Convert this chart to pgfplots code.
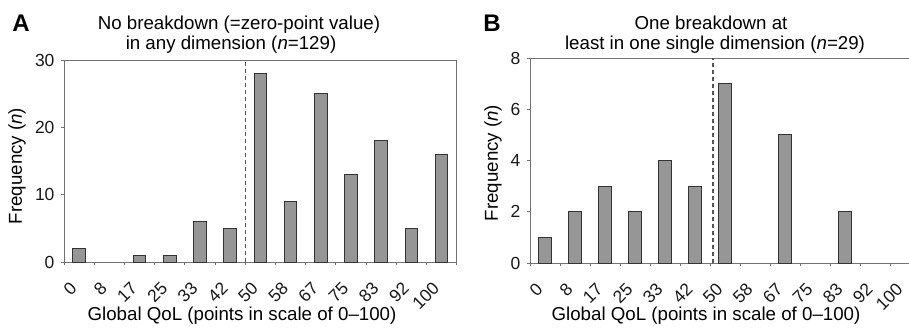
\documentclass[border=0pt]{standalone}
\usepackage{fontspec}
\setmainfont{Liberation Sans}
\usepackage{pgfplots}
\pgfplotsset{compat=1.18}
\definecolor{bargray}{RGB}{150,150,150}
\definecolor{axgray}{RGB}{115,115,115}
\definecolor{dashgray}{RGB}{85,85,85}
\pgfplotsset{
  mystyle/.style={
    scale only axis,
    anchor=south west,
    bar width=12.5pt,
    xmin=-0.5, xmax=12.5,
    xtick={0,...,12},
    xticklabels={0,8,17,25,33,42,50,58,67,75,83,92,100},
    minor xtick={-0.5,0.5,...,12.5},
    tick align=outside,
    xtick pos=bottom, ytick pos=left,
    every major x tick/.append style={draw=none},
    tick style={axgray, line width=0.8pt},
    major tick length=3pt, minor tick length=3pt,
    axis line style={axgray, line width=0.8pt},
    ticklabel style={font=\fontsize{17.5}{18}\selectfont, text=black!90},
    xticklabel style={xshift=-3pt, yshift=-18pt, rotate=45, anchor=east},
    yticklabel style={xshift=-3pt},
    /pgf/number format/assume math mode=true,
    ymin=0,
    clip=false,
  },
  mybar/.style={ybar, fill=bargray, draw=black!80, line width=0.8pt},
  mydash/.style={sharp plot, draw=dashgray, line width=1.2pt, dash pattern=on 4pt off 3pt},
}
\begin{document}
\begin{tikzpicture}
\path[use as bounding box, clip] (0,0) rectangle (909pt,332pt);
% Panel A (zero-frequency classes draw no bar)
\begin{axis}[mystyle, at={(64pt,70pt)}, width=392.6pt, height=202pt,
  ymax=30, ytick={0,10,20,30}]
\addplot[mybar] coordinates {(0,2) (2,1) (3,1) (4,6) (5,5) (6,28) (7,9) (8,25) (9,13) (10,18) (11,5) (12,16)};
\addplot[mydash] coordinates {(5.52,0) (5.52,30)};
\end{axis}
% Panel B
\begin{axis}[mystyle, at={(530pt,69pt)}, width=390pt, height=205pt,
  ymax=8, ytick={0,2,4,6,8}]
\addplot[mybar] coordinates {(0,1) (1,2) (2,3) (3,2) (4,4) (5,3) (6,7) (8,5) (10,2)};
\addplot[mydash] coordinates {(5.6,0) (5.6,8)};
\end{axis}
% Texts
\begin{scope}[every node/.style={font=\fontsize{18.7}{22}\selectfont, inner sep=0pt}]
\node[anchor=base] at (21pt,300pt) {\fontsize{24}{26}\selectfont\bfseries A};
\node[anchor=base] at (492pt,300pt) {\fontsize{24}{26}\selectfont\bfseries B};
\node[anchor=base] at (239pt,302pt) {No breakdown (=zero-point value)};
\node[anchor=base] at (231pt,282pt) {in any dimension (\textit{n}=129)};
\node[anchor=base] at (711pt,302pt) {One breakdown at};
\node[anchor=base] at (715pt,282pt) {least in one single dimension (\textit{n}=29)};
\node[anchor=base] at (242pt,12pt) {Global QoL (points in scale of 0–100)};
\node[anchor=base] at (706pt,12pt) {Global QoL (points in scale of 0–100)};
\node[rotate=90] at (17pt,166pt) {Frequency (\textit{n})};
\node[rotate=90] at (493pt,169pt) {Frequency (\textit{n})};
\end{scope}
\end{tikzpicture}
\end{document}
